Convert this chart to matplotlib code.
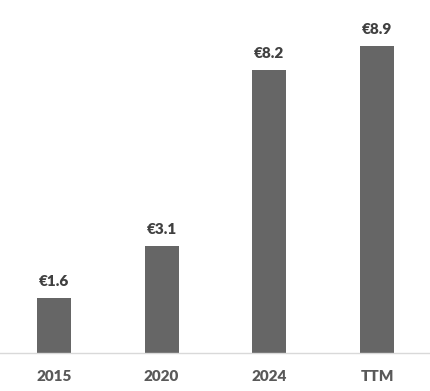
import matplotlib
matplotlib.use("Agg")
import matplotlib.pyplot as plt
import numpy as np

categories = ["2015", "2020", "2024", "TTM"]
values = [1.6, 3.1, 8.2, 8.9]
labels = ["€1.6", "€3.1", "€8.2", "€8.9"]

plt.rcParams["font.family"] = ["Lato", "DejaVu Sans"]

fig = plt.figure(figsize=(4.31, 3.91), dpi=100)
ax = fig.add_axes([0.0, (391 - 353) / 391, 1.0, 353 / 391])

x = np.arange(len(categories))
ax.bar(x, values, width=0.315, color="#666666", zorder=2)
for xi, v, lab in zip(x, values, labels):
    ax.annotate(lab, (xi, v), xytext=(0, 7), textcoords="offset points",
                ha="center", va="bottom", fontsize=11, fontweight="heavy",
                color="#404040")

ax.set_xlim(-0.5, 3.5)
ax.set_ylim(0, 353 / 34.5)
ax.set_xticks(x)
ax.set_xticklabels(categories, fontsize=11, fontweight="heavy", color="#595959")
ax.tick_params(axis="x", length=0, pad=12)
ax.set_yticks([])
for s in ["top", "right", "left"]:
    ax.spines[s].set_visible(False)
ax.spines["bottom"].set_color("#d9d9d9")
ax.spines["bottom"].set_linewidth(1.0)

fig.savefig("out.png", dpi=100)
